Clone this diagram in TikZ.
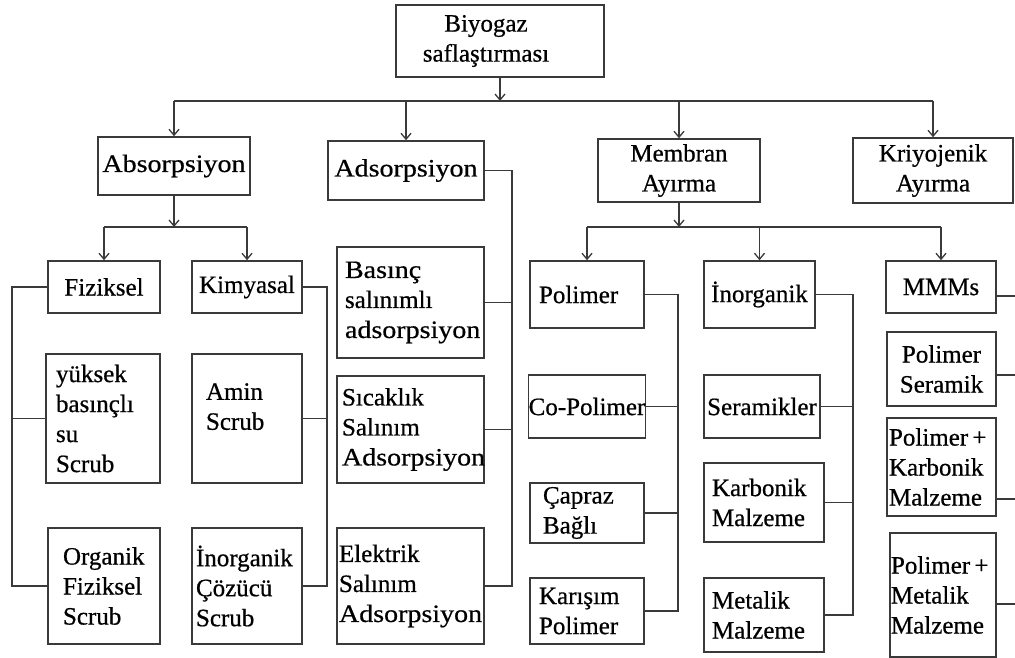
\documentclass[tikz,border=0pt]{standalone}
\usepackage{fontspec}
\setmainfont{Liberation Serif}[FakeBold=0.6]
\newfontfamily\wide{Liberation Serif}[FakeBold=0.6,FakeStretch=1.12]
\usetikzlibrary{arrows.meta,calc}
\newcommand\fz{\fontsize{25}{30}\selectfont}
\definecolor{lc}{HTML}{3A3A3A}
\tikzset{
  bx/.style={draw=lc, line width=1.5pt, inner ysep=0pt, font=\fz, text=black},
  cb/.style={bx, align=center, inner xsep=0pt},
  lb/.style 2 args={bx, align=left, inner xsep=#1, text width=#2},
  ln/.style={draw=lc, line width=1.5pt},
  ar/.style={ln, -{Straight Barb[length=6pt,width=10pt,line width=1.3pt]}},
}
\begin{document}
\begin{tikzpicture}[x=1pt,y=-1pt]
\useasboundingbox[fill=white] (0,0) rectangle (1015,658);
% level 0 / 1
\node[bx, minimum width=208, minimum height=72] (root) at (500,41) {};
\node[font=\fz, align=center, inner sep=0pt] (roottext) at (486,41) {Biyogaz\\saflaştırması};
\node[cb, minimum width=152, minimum height=58] (abs) at (174,166) {{\wide Absorpsiyon}};
\node[cb, minimum width=156, minimum height=59] (ads) at (406,170.5) {{\wide Adsorpsiyon}};
\node[cb, minimum width=162, minimum height=63] (mem) at (679,170.5) {Membran\\Ayırma};
\node[cb, minimum width=160, minimum height=65] (kri) at (933,170.5) {Kriyojenik\\Ayırma};
% absorpsiyon
\node[cb, minimum width=112, minimum height=52] (fiz) at (104,287) {Fiziksel};
\node[cb, minimum width=110, minimum height=52] (kim) at (247,287) {Kimyasal};
\node[lb={10}{94}, minimum height=129] (yuk) at (103,418.5) {yüksek\\basınçlı\\su\\Scrub};
\node[lb={14}{82}, minimum height=129] (amin) at (247,418.5) {Amin\\Scrub\\[-6pt]\mbox{}};
\node[lb={15}{82}, minimum height=116] (org) at (104,586) {Organik\\Fiziksel\\Scrub};
\node[lb={4}{102}, minimum height=116] (inoc) at (247,586) {İnorganik\\Çözücü\\Scrub};
% adsorpsiyon
\node[lb={8}{131}, minimum height=111] (bas) at (410.5,302.5) {{\wide Basınç}\\salınımlı\\{\wide adsorpsiyon}};
\node[lb={5}{137}, minimum height=107] (sic) at (410.5,429.5) {Sıcaklık\\Salınım\\{\wide Adsorpsiyon}};
\node[lb={2}{143}, minimum height=116] (ele) at (410.5,586) {Elektrik\\Salınım\\{\wide Adsorpsiyon}};
% membran
\node[lb={9}{96}, minimum height=67] (pol) at (587,294.5) {Polimer};
\node[cb, minimum width=114, minimum height=63] (cop) at (587,406.5) {Co-Polimer};
\node[lb={13}{88}, minimum height=60] (cap) at (587,513) {Çapraz\\Bağlı};
\node[lb={9}{96}, minimum height=66] (kar) at (587,611) {Karışım\\Polimer};
\node[cb, minimum width=111, minimum height=67] (ino) at (759.5,294.5) {İnorganik};
\node[cb, minimum width=116, minimum height=63] (ser) at (762,406.5) {Seramikler};
\node[lb={8}{104}, minimum height=79] (karb) at (764,502.5) {Karbonik\\Malzeme};
\node[lb={8}{104}, minimum height=74] (met) at (764,615) {Metalik\\Malzeme};
\node[cb, minimum width=110, minimum height=52] (mmm) at (941,287) {MMMs};
\node[cb, minimum width=109, minimum height=74] (pse) at (941.5,369) {Polimer\\Seramik};
\node[lb={2}{105}, minimum height=98] (pkm) at (941.5,467) {Polimer\,+\\Karbonik\\Malzeme};
\node[lb={1}{104}, minimum height=124] (pmm) at (943,595) {Polimer\,+\\Metalik\\Malzeme};
% top bus
\coordinate (b0) at (500,101);
\draw[ar] (root.south) -- (b0);
\draw[ln] (abs.north |- b0) -- (kri.north |- b0);
\foreach \n in {abs,ads,mem,kri} \draw[ar] (\n.north |- b0) -- (\n.north);
% absorpsiyon bus
\coordinate (a0) at (174,227);
\draw[ar] (abs.south) -- (a0);
\draw[ln] (fiz.north |- a0) -- (kim.north |- a0);
\foreach \n in {fiz,kim} \draw[ar] (\n.north |- a0) -- (\n.north);
% membran bus
\coordinate (m0) at (679,227);
\draw[ar] (mem.south) -- (m0);
\draw[ln] (pol.north |- m0) -- (mmm.north |- m0);
\foreach \n in {pol,ino,mmm} \draw[ar] (\n.north |- m0) -- (\n.north);
% side connectors
\coordinate (fx) at (12,0);
\draw[ln] (fiz.west) -- (fiz.west -| fx) |- (org.west);
\draw[ln] (yuk.west) -- (yuk.west -| fx);
\coordinate (kx) at (327,0);
\draw[ln] (kim.east) -- (kim.east -| kx) |- (inoc.east);
\draw[ln] (amin.east) -- (amin.east -| kx);
\coordinate (dx) at (512,0);
\draw[ln] (ads.east) -- (ads.east -| dx) |- (ele.east);
\draw[ln] (bas.east) -- (bas.east -| dx);
\draw[ln] (sic.east) -- (sic.east -| dx);
\coordinate (px) at (678,0);
\draw[ln] (pol.east) -- (pol.east -| px) |- (kar.east);
\draw[ln] (cop.east) -- (cop.east -| px);
\draw[ln] (cap.east) -- (cap.east -| px);
\coordinate (ix) at (853,0);
\draw[ln] (ino.east) -- (ino.east -| ix) |- (met.east);
\draw[ln] (ser.east) -- (ser.east -| ix);
\draw[ln] (karb.east) -- (karb.east -| ix);
\coordinate (rx) at (1015,0);
\coordinate (r1) at ($(mmm.east)+(0,9)$);
\coordinate (r2) at ($(pse.east)+(0,6)$);
\coordinate (r3) at ($(pkm.east)+(0,32)$);
\coordinate (r4) at ($(pmm.east)+(0,9)$);
\foreach \c in {r1,r2,r3,r4} \draw[ln] (\c) -- (\c -| rx);
\end{tikzpicture}
\end{document}
